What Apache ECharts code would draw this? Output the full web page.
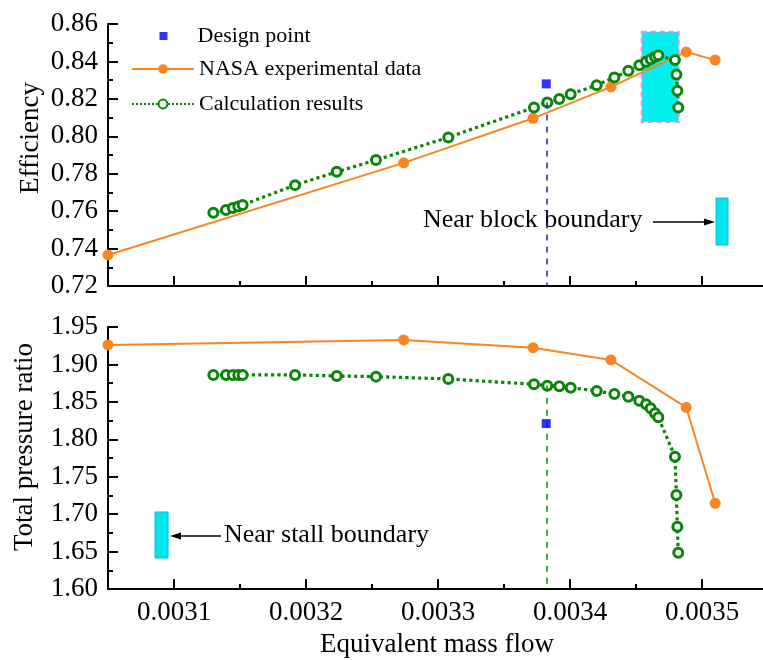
<!DOCTYPE html>
<html><head><meta charset="utf-8">
<script src="https://cdn.jsdelivr.net/npm/echarts@6/dist/echarts.min.js"></script>
<style>html,body{margin:0;padding:0;background:#fff}#c{width:763px;height:660px}</style>
</head><body><div id="c"></div><script>
// ---- data ----
const nasaFlow = [0.00305, 0.003274, 0.003372, 0.003431, 0.003488, 0.00351];
const nasaEff  = [0.7366, 0.7858, 0.8096, 0.8264, 0.8451, 0.8407];
const nasaPR   = [1.926, 1.9327, 1.9224, 1.906, 1.8427, 1.7145];

const calcFlow = [0.0031298, 0.0031394, 0.0031445, 0.0031487, 0.003152, 0.0031917, 0.0032233, 0.003253,
  0.0033078, 0.0033727, 0.0033828, 0.0033919, 0.0034005, 0.0034202, 0.0034336, 0.0034442, 0.0034525,
  0.0034576, 0.0034611, 0.0034644, 0.0034669, 0.0034795, 0.0034806, 0.0034813, 0.003482];
const calcEff = [0.7591, 0.7606, 0.7617, 0.7625, 0.7633, 0.7739, 0.7810, 0.7873, 0.7994, 0.8154, 0.8181,
  0.8199, 0.8225, 0.8273, 0.8314, 0.8350, 0.8380, 0.8398, 0.8412, 0.8424, 0.8433, 0.8407, 0.8330, 0.8243, 0.8154];
const calcPR = [1.886, 1.886, 1.886, 1.886, 1.886, 1.886, 1.8846, 1.8837, 1.8806, 1.8735, 1.8716, 1.8708,
  1.869, 1.8645, 1.8605, 1.8569, 1.8516, 1.8467, 1.8414, 1.8347, 1.8294, 1.7767, 1.7256, 1.6832, 1.6485];

const designFlow = [0.003382];
const designEff = [0.828];
const designPR = [1.821];
const designLineEff = [0.8181, 0.72];
const designLinePR = [1.8716, 1.60];

const blockBox = [[0.0034543, 0.8558], [0.0034823, 0.8077]];
const blockMark = [[0.0035106, 0.767], [0.0035197, 0.7419]];
const stallMark = [[0.0030856, 1.7029], [0.0030955, 1.6414]];

const xTickMajor = [0.0031, 0.0032, 0.0033, 0.0034, 0.0035];
const xTickMinor = [0.00315, 0.00325, 0.00335, 0.00345];
const effTickMajor = [0.72, 0.74, 0.76, 0.78, 0.80, 0.82, 0.84, 0.86];
const effTickMinor = [0.73, 0.75, 0.77, 0.79, 0.81, 0.83, 0.85];
const prTickMajor = [1.60, 1.65, 1.70, 1.75, 1.80, 1.85, 1.90, 1.95];
const prTickMinor = [1.625, 1.675, 1.725, 1.775, 1.825, 1.875, 1.925];

const names = ['Design point', 'NASA experimental data', 'Calculation results'];

// ---- style ----
const FF = '"Liberation Serif", "Times New Roman", serif';
const ORANGE = '#fa8522';
const GREEN = '#0a850a';
const BLUE = '#0000ff';
const xMin = 0.00305, xMax = 0.0035462;

function zip(a, b) { return a.map((v, i) => [v, b[i]]); }

function xAx(grid, ticks, len, showLine, showLabel) {
  return {
    type: 'value', gridIndex: grid, min: xMin, max: xMax, position: 'bottom',
    axisLine: { show: showLine, onZero: false, lineStyle: { color: '#000', width: 2 } },
    axisTick: { show: true, inside: true, length: len, customValues: ticks, lineStyle: { color: '#000', width: 2 } },
    axisLabel: { show: showLabel, customValues: ticks, formatter: v => v.toFixed(4), fontSize: 27, fontFamily: FF, color: '#000', margin: 10 },
    splitLine: { show: false }
  };
}
function yAx(grid, min, max, ticks, len, showLine, showLabel) {
  return {
    type: 'value', gridIndex: grid, min: min, max: max, position: 'left',
    axisLine: { show: showLine, onZero: false, lineStyle: { color: '#000', width: 2 } },
    axisTick: { show: true, inside: true, length: len, customValues: ticks, lineStyle: { color: '#000', width: 2 } },
    axisLabel: { show: showLabel, customValues: ticks, formatter: v => v.toFixed(2), fontSize: 27, fontFamily: FF, color: '#000', margin: 10 },
    splitLine: { show: false }
  };
}

const chart = echarts.init(document.getElementById('c'), null, { renderer: 'canvas' });

const nasaSeries = (xi, yi, ys) => ({
  name: names[1], type: 'line', xAxisIndex: xi, yAxisIndex: yi, z: 3,
  data: zip(nasaFlow, ys), symbol: 'circle', symbolSize: 11,
  lineStyle: { color: ORANGE, width: 2 }, itemStyle: { color: ORANGE }, animation: false
});
const calcSeries = (xi, yi, ys) => ({
  name: names[2], type: 'line', xAxisIndex: xi, yAxisIndex: yi, z: 4,
  data: zip(calcFlow, ys), symbol: 'circle', symbolSize: 9,
  lineStyle: { color: GREEN, width: 3.2, type: 'dotted' },
  itemStyle: { color: '#fff', borderColor: GREEN, borderWidth: 3 }, animation: false
});
const designSeries = (xi, yi, ys, lineYs, lineColor) => ({
  name: names[0], type: 'scatter', xAxisIndex: xi, yAxisIndex: yi, z: 5,
  data: zip(designFlow, ys), symbol: 'rect', symbolSize: 9, itemStyle: { color: BLUE },
  markLine: {
    silent: true, symbol: ['none', 'none'], label: { show: false },
    lineStyle: { color: lineColor, width: 1.5, type: [6, 6] },
    data: [[{ coord: [designFlow[0], lineYs[0]] }, { coord: [designFlow[0], lineYs[1]] }]]
  }, animation: false
});
const areaSeries = (xi, yi, areas) => ({
  type: 'line', xAxisIndex: xi, yAxisIndex: yi, z: 1, data: [], silent: true,
  markArea: { silent: true, data: areas }, animation: false
});

const legendText = { fontSize: 22, fontFamily: FF, color: '#000' };
const legendCommon = { orient: 'vertical', padding: 0, selectedMode: false, textStyle: legendText };

chart.setOption({
  animation: false,
  backgroundColor: '#fff',
  textStyle: { fontFamily: FF },
  grid: [
    { left: 108, top: 24, right: 0, height: 262 },
    { left: 108, top: 327, right: 0, height: 262 }
  ],
  xAxis: [
    xAx(0, xTickMajor, 10, true, false),
    xAx(1, xTickMajor, 10, true, true),
    xAx(0, xTickMinor, 5, false, false),
    xAx(1, xTickMinor, 5, false, false)
  ],
  yAxis: [
    yAx(0, 0.72, 0.86, effTickMajor, 10, true, true),
    yAx(1, 1.60, 1.95, prTickMajor, 10, true, true),
    yAx(0, 0.72, 0.86, effTickMinor, 5, false, false),
    yAx(1, 1.60, 1.95, prTickMinor, 5, false, false)
  ],
  legend: [
    Object.assign({}, legendCommon, { data: [names[0]], left: 159.5, top: 25, itemWidth: 8, itemHeight: 8,
      textStyle: Object.assign({}, legendText, { padding: [0, 0, 0, 25] }) }),
    Object.assign({}, legendCommon, { data: [names[1]], left: 131, top: 58, itemWidth: 62, itemHeight: 12 }),
    Object.assign({}, legendCommon, { data: [names[2]], left: 131, top: 93, itemWidth: 62, itemHeight: 11 })
  ],
  series: [
    areaSeries(0, 0, [
      [{ coord: blockBox[0], itemStyle: { color: '#00f0f0', borderColor: '#ee88ee', borderWidth: 2, borderType: [5, 4], opacity: 1 } }, { coord: blockBox[1] }],
      [{ coord: blockMark[0], itemStyle: { color: '#00e6ec', borderColor: '#00c8d0', borderWidth: 1, opacity: 1 } }, { coord: blockMark[1] }]
    ]),
    areaSeries(1, 1, [
      [{ coord: stallMark[0], itemStyle: { color: '#00e6ec', borderColor: '#00c8d0', borderWidth: 1, opacity: 1 } }, { coord: stallMark[1] }]
    ]),
    designSeries(0, 0, designEff, designLineEff, '#23239a'),
    nasaSeries(0, 0, nasaEff),
    calcSeries(0, 0, calcEff),
    designSeries(1, 1, designPR, designLinePR, GREEN),
    nasaSeries(1, 1, nasaPR),
    calcSeries(1, 1, calcPR)
  ],
  graphic: [
    { type: 'text', x: 31, y: 138, rotation: Math.PI / 2, style: { text: 'Efficiency', font: '27px ' + FF, fill: '#000', align: 'center', verticalAlign: 'middle' } },
    { type: 'text', x: 25, y: 447, rotation: Math.PI / 2, style: { text: 'Total pressure ratio', font: '27px ' + FF, fill: '#000', align: 'center', verticalAlign: 'middle' } },
    { type: 'text', x: 437, y: 645, style: { text: 'Equivalent mass flow', font: '27px ' + FF, fill: '#000', align: 'center', verticalAlign: 'middle' } },
    { type: 'text', x: 423, y: 220, style: { text: 'Near block boundary', font: '26px ' + FF, fill: '#000', align: 'left', verticalAlign: 'middle' } },
    { type: 'line', shape: { x1: 653, y1: 222, x2: 706, y2: 222 }, style: { stroke: '#000', lineWidth: 1.5 } },
    { type: 'polygon', shape: { points: [[715, 222], [704, 218.5], [704, 225.5]] }, style: { fill: '#000' } },
    { type: 'text', x: 224, y: 535, style: { text: 'Near stall boundary', font: '26px ' + FF, fill: '#000', align: 'left', verticalAlign: 'middle' } },
    { type: 'line', shape: { x1: 180, y1: 536, x2: 221, y2: 536 }, style: { stroke: '#000', lineWidth: 1.5 } },
    { type: 'polygon', shape: { points: [[170, 536], [181, 532.5], [181, 539.5]] }, style: { fill: '#000' } }
  ]
});
</script></body></html>
